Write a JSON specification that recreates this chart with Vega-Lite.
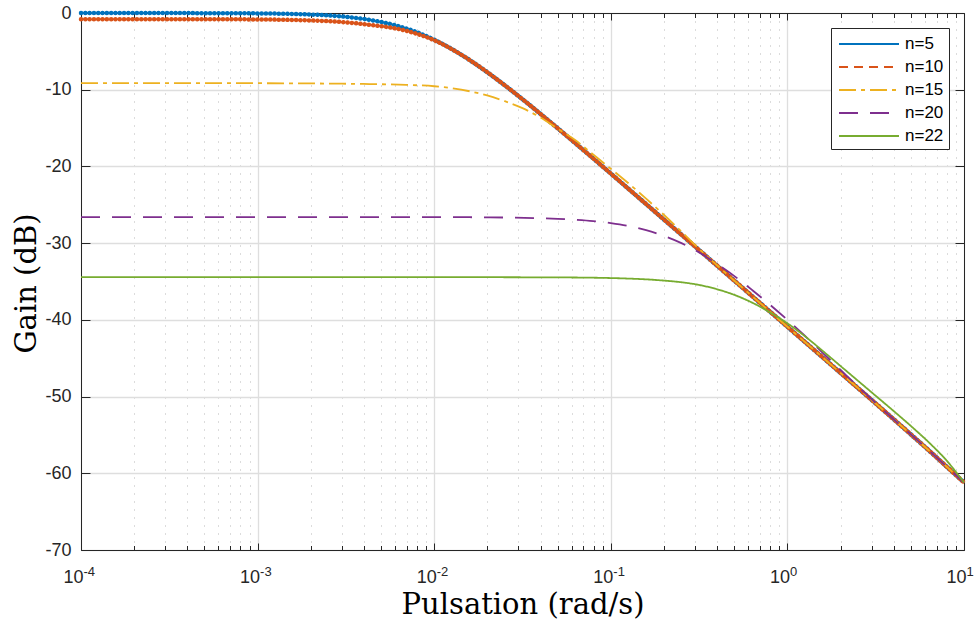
{
 "$schema": "https://vega.github.io/schema/vega-lite/v6.json",
 "width": 883,
 "height": 537,
 "autosize": {"type": "none"},
 "padding": {"left": 81, "top": 13, "right": 14, "bottom": 74},
 "background": "white",
 "config": {"view": {"stroke": null}},
 "data": {"values": [
  {"n":"n=5","w":0.0001,"g":0},
  {"n":"n=5","w":0.00031623,"g":-0.01},
  {"n":"n=5","w":0.001,"g":-0.05},
  {"n":"n=5","w":0.0015849,"g":-0.13},
  {"n":"n=5","w":0.0025119,"g":-0.32},
  {"n":"n=5","w":0.0031623,"g":-0.5},
  {"n":"n=5","w":0.0039811,"g":-0.77},
  {"n":"n=5","w":0.0050119,"g":-1.17},
  {"n":"n=5","w":0.0063096,"g":-1.73},
  {"n":"n=5","w":0.0079433,"g":-2.49},
  {"n":"n=5","w":0.01,"g":-3.48},
  {"n":"n=5","w":0.012589,"g":-4.7},
  {"n":"n=5","w":0.015849,"g":-6.12},
  {"n":"n=5","w":0.019953,"g":-7.71},
  {"n":"n=5","w":0.025119,"g":-9.43},
  {"n":"n=5","w":0.031623,"g":-11.24},
  {"n":"n=5","w":0.039811,"g":-13.12},
  {"n":"n=5","w":0.050119,"g":-15.04},
  {"n":"n=5","w":0.063096,"g":-16.99},
  {"n":"n=5","w":0.079433,"g":-18.95},
  {"n":"n=5","w":0.1,"g":-20.93},
  {"n":"n=5","w":0.12589,"g":-22.92},
  {"n":"n=5","w":0.15849,"g":-24.91},
  {"n":"n=5","w":0.19953,"g":-26.91},
  {"n":"n=5","w":0.25119,"g":-28.9},
  {"n":"n=5","w":0.31623,"g":-30.9},
  {"n":"n=5","w":0.39811,"g":-32.9},
  {"n":"n=5","w":0.50119,"g":-34.9},
  {"n":"n=5","w":0.63096,"g":-36.9},
  {"n":"n=5","w":0.79433,"g":-38.9},
  {"n":"n=5","w":1,"g":-40.9},
  {"n":"n=5","w":1.2589,"g":-42.9},
  {"n":"n=5","w":1.5849,"g":-44.9},
  {"n":"n=5","w":1.9953,"g":-46.9},
  {"n":"n=5","w":2.5119,"g":-48.9},
  {"n":"n=5","w":3.1623,"g":-50.9},
  {"n":"n=5","w":3.9811,"g":-52.92},
  {"n":"n=5","w":5.0119,"g":-54.95},
  {"n":"n=5","w":6.3096,"g":-57},
  {"n":"n=5","w":7.9433,"g":-59.1},
  {"n":"n=5","w":10,"g":-61.2},

  {"n":"n=10","w":0.0001,"g":-0.8},
  {"n":"n=10","w":0.00031623,"g":-0.8},
  {"n":"n=10","w":0.001,"g":-0.84},
  {"n":"n=10","w":0.0015849,"g":-0.91},
  {"n":"n=10","w":0.0025119,"g":-1.07},
  {"n":"n=10","w":0.0031623,"g":-1.22},
  {"n":"n=10","w":0.0039811,"g":-1.45},
  {"n":"n=10","w":0.0050119,"g":-1.72},
  {"n":"n=10","w":0.0063096,"g":-2.1},
  {"n":"n=10","w":0.0079433,"g":-2.7},
  {"n":"n=10","w":0.01,"g":-3.55},
  {"n":"n=10","w":0.012589,"g":-4.72},
  {"n":"n=10","w":0.015849,"g":-6.12},
  {"n":"n=10","w":0.019953,"g":-7.71},
  {"n":"n=10","w":0.025119,"g":-9.43},
  {"n":"n=10","w":0.031623,"g":-11.24},
  {"n":"n=10","w":0.039811,"g":-13.12},
  {"n":"n=10","w":0.050119,"g":-15.04},
  {"n":"n=10","w":0.063096,"g":-16.99},
  {"n":"n=10","w":0.079433,"g":-18.95},
  {"n":"n=10","w":0.1,"g":-20.93},
  {"n":"n=10","w":0.12589,"g":-22.92},
  {"n":"n=10","w":0.15849,"g":-24.91},
  {"n":"n=10","w":0.19953,"g":-26.91},
  {"n":"n=10","w":0.25119,"g":-28.9},
  {"n":"n=10","w":0.31623,"g":-30.9},
  {"n":"n=10","w":0.39811,"g":-32.9},
  {"n":"n=10","w":0.50119,"g":-34.9},
  {"n":"n=10","w":0.63096,"g":-36.9},
  {"n":"n=10","w":0.79433,"g":-38.9},
  {"n":"n=10","w":1,"g":-40.9},
  {"n":"n=10","w":1.2589,"g":-42.9},
  {"n":"n=10","w":1.5849,"g":-44.9},
  {"n":"n=10","w":1.9953,"g":-46.9},
  {"n":"n=10","w":2.5119,"g":-48.9},
  {"n":"n=10","w":3.1623,"g":-50.9},
  {"n":"n=10","w":3.9811,"g":-52.92},
  {"n":"n=10","w":5.0119,"g":-54.95},
  {"n":"n=10","w":6.3096,"g":-57},
  {"n":"n=10","w":7.9433,"g":-59.1},
  {"n":"n=10","w":10,"g":-61.2},

  {"n":"n=15","w":0.0001,"g":-9.13},
  {"n":"n=15","w":0.00031623,"g":-9.13},
  {"n":"n=15","w":0.001,"g":-9.15},
  {"n":"n=15","w":0.0025119,"g":-9.2},
  {"n":"n=15","w":0.0039811,"g":-9.25},
  {"n":"n=15","w":0.0063096,"g":-9.34},
  {"n":"n=15","w":0.01,"g":-9.55},
  {"n":"n=15","w":0.012589,"g":-9.8},
  {"n":"n=15","w":0.015849,"g":-10.2},
  {"n":"n=15","w":0.019953,"g":-10.75},
  {"n":"n=15","w":0.025119,"g":-11.5},
  {"n":"n=15","w":0.031623,"g":-12.4},
  {"n":"n=15","w":0.039811,"g":-13.6},
  {"n":"n=15","w":0.050119,"g":-15.1},
  {"n":"n=15","w":0.063096,"g":-16.6},
  {"n":"n=15","w":0.079433,"g":-18.45},
  {"n":"n=15","w":0.1,"g":-20.3},
  {"n":"n=15","w":0.12589,"g":-22.2},
  {"n":"n=15","w":0.15849,"g":-24.2},
  {"n":"n=15","w":0.19953,"g":-26.3},
  {"n":"n=15","w":0.25119,"g":-28.5},
  {"n":"n=15","w":0.31623,"g":-30.75},
  {"n":"n=15","w":0.39811,"g":-32.85},
  {"n":"n=15","w":0.50119,"g":-34.9},
  {"n":"n=15","w":0.63096,"g":-36.9},
  {"n":"n=15","w":1,"g":-40.9},
  {"n":"n=15","w":1.5849,"g":-44.9},
  {"n":"n=15","w":2.5119,"g":-48.9},
  {"n":"n=15","w":3.9811,"g":-52.92},
  {"n":"n=15","w":6.3096,"g":-57},
  {"n":"n=15","w":7.9433,"g":-59.1},
  {"n":"n=15","w":10,"g":-61.2},

  {"n":"n=20","w":0.0001,"g":-26.6},
  {"n":"n=20","w":0.001,"g":-26.6},
  {"n":"n=20","w":0.01,"g":-26.6},
  {"n":"n=20","w":0.015849,"g":-26.62},
  {"n":"n=20","w":0.025119,"g":-26.66},
  {"n":"n=20","w":0.039811,"g":-26.75},
  {"n":"n=20","w":0.050119,"g":-26.83},
  {"n":"n=20","w":0.063096,"g":-26.95},
  {"n":"n=20","w":0.079433,"g":-27.12},
  {"n":"n=20","w":0.1,"g":-27.38},
  {"n":"n=20","w":0.12589,"g":-27.75},
  {"n":"n=20","w":0.15849,"g":-28.3},
  {"n":"n=20","w":0.19953,"g":-29.05},
  {"n":"n=20","w":0.25119,"g":-30.0},
  {"n":"n=20","w":0.31623,"g":-31.2},
  {"n":"n=20","w":0.39811,"g":-32.7},
  {"n":"n=20","w":0.50119,"g":-34.3},
  {"n":"n=20","w":0.63096,"g":-36.1},
  {"n":"n=20","w":0.79433,"g":-38.0},
  {"n":"n=20","w":1,"g":-40.0},
  {"n":"n=20","w":1.2589,"g":-42.1},
  {"n":"n=20","w":1.5849,"g":-44.3},
  {"n":"n=20","w":1.9953,"g":-46.5},
  {"n":"n=20","w":2.5119,"g":-48.7},
  {"n":"n=20","w":3.1623,"g":-50.85},
  {"n":"n=20","w":3.9811,"g":-52.92},
  {"n":"n=20","w":5.0119,"g":-54.95},
  {"n":"n=20","w":6.3096,"g":-57},
  {"n":"n=20","w":7.9433,"g":-59.1},
  {"n":"n=20","w":10,"g":-61.2},

  {"n":"n=22","w":0.0001,"g":-34.42},
  {"n":"n=22","w":0.001,"g":-34.42},
  {"n":"n=22","w":0.01,"g":-34.43},
  {"n":"n=22","w":0.031623,"g":-34.45},
  {"n":"n=22","w":0.063096,"g":-34.48},
  {"n":"n=22","w":0.1,"g":-34.55},
  {"n":"n=22","w":0.12589,"g":-34.62},
  {"n":"n=22","w":0.15849,"g":-34.72},
  {"n":"n=22","w":0.19953,"g":-34.88},
  {"n":"n=22","w":0.25119,"g":-35.1},
  {"n":"n=22","w":0.31623,"g":-35.45},
  {"n":"n=22","w":0.39811,"g":-36.0},
  {"n":"n=22","w":0.50119,"g":-36.75},
  {"n":"n=22","w":0.63096,"g":-37.75},
  {"n":"n=22","w":0.79433,"g":-39.0},
  {"n":"n=22","w":1,"g":-40.45},
  {"n":"n=22","w":1.2589,"g":-42.15},
  {"n":"n=22","w":1.5849,"g":-44.05},
  {"n":"n=22","w":1.9953,"g":-46.0},
  {"n":"n=22","w":2.5119,"g":-47.95},
  {"n":"n=22","w":3.1623,"g":-49.9},
  {"n":"n=22","w":3.9811,"g":-51.85},
  {"n":"n=22","w":5.0119,"g":-53.85},
  {"n":"n=22","w":6.3096,"g":-55.95},
  {"n":"n=22","w":7.9433,"g":-58.3},
  {"n":"n=22","w":10,"g":-61.2}
 ]},
 "layer": [
  {
   "transform": [{"filter": {"field": "n", "oneOf": ["n=5", "n=10"]}}],
   "mark": {"type": "line", "strokeWidth": 1.5, "interpolate": "monotone"},
   "encoding": {
    "x": {"field": "w", "type": "quantitative",
     "scale": {"type": "log", "domain": [0.0001, 10], "nice": false},
     "axis": {
      "orient": "bottom",
      "values": [0.0001,0.0002,0.0003,0.0004,0.0005,0.0006,0.0007,0.0008,0.0009,0.001,0.002,0.003,0.004,0.005,0.006,0.007,0.008,0.009,0.01,0.02,0.03,0.04,0.05,0.06,0.07,0.08,0.09,0.1,0.2,0.3,0.4,0.5,0.6,0.7,0.8,0.9,1,2,3,4,5,6,7,8,9,10],
      "labelExpr": "indexof([0.0001,0.001,0.01,0.1,1,10], datum.value) >= 0 ? '10' : ''",
      "labelFont": "Liberation Sans", "labelFontSize": 18, "labelColor": "#262626",
      "labelPadding": 25, "labelOffset": -8, "labelOverlap": false, "labelFlush": false, "labelBound": false,
      "tickColor": "#262626", "tickWidth": 1,
      "tickSize": {"condition": {"test": "indexof([0.0001,0.001,0.01,0.1,1,10], datum.value) >= 0", "value": -7}, "value": -4.5},
      "grid": true,
      "gridColor": {"condition": {"test": "indexof([0.0001,0.001,0.01,0.1,1,10], datum.value) >= 0", "value": "#dedede"}, "value": "#b8b8b8"},
      "gridDash": {"condition": {"test": "indexof([0.0001,0.001,0.01,0.1,1,10], datum.value) >= 0", "value": []}, "value": [1, 7]},
      "gridWidth": {"condition": {"test": "indexof([0.0001,0.001,0.01,0.1,1,10], datum.value) >= 0", "value": 1.3}, "value": 1},
      "domainColor": "#262626", "domainWidth": 1,
      "title": "Pulsation (rad/s)", "titleFont": "DejaVu Serif", "titleFontSize": 29, "titleFontWeight": "normal", "titleColor": "#000000",
      "titleX": 441.5, "titleY": 63, "titleAlign": "center", "titleBaseline": "alphabetic"
     }},
    "y": {"field": "g", "type": "quantitative",
     "scale": {"domain": [-70, 0], "nice": false, "zero": false},
     "axis": {
      "orient": "left",
      "values": [-70,-60,-50,-40,-30,-20,-10,0],
      "labelExpr": "'' + datum.value",
      "labelFont": "Liberation Sans", "labelFontSize": 18, "labelColor": "#262626",
      "labelPadding": 19, "labelFlush": false, "labelOverlap": false, "labelBound": false,
      "tickSize": -9, "tickColor": "#262626", "tickWidth": 1,
      "grid": true, "gridColor": "#dedede", "gridWidth": 1.3,
      "domainColor": "#262626", "domainWidth": 1,
      "title": "Gain (dB)", "titleFont": "DejaVu Serif", "titleFontSize": 29, "titleFontWeight": "normal", "titleColor": "#000000",
      "titleAngle": -90, "titleX": -46, "titleY": 270, "titleAlign": "center", "titleBaseline": "alphabetic"
     }},
    "color": {"field": "n", "type": "nominal",
     "scale": {"domain": ["n=5","n=10","n=15","n=20","n=22"], "range": ["#0072BD","#D95319","#EDB120","#7E2F8E","#77AC30"]},
     "legend": {"title": null, "orient": "top-right", "offset": 15, "fillColor": "white", "strokeColor": "#262626", "padding": 5,
      "labelFont": "Liberation Sans", "labelFontSize": 17, "labelColor": "#000000", "labelOffset": 25,
      "symbolType": "M-3,0H3", "symbolSize": 400, "symbolOffset": 22, "symbolStrokeWidth": 2, "rowPadding": 4}},
    "strokeDash": {"field": "n", "type": "nominal",
     "scale": {"domain": ["n=5","n=10","n=15","n=20","n=22"], "range": [[1,0],[9,6],[17,5,4,5],[19,12],[1,0]]},
     "legend": {"title": null, "orient": "top-right", "offset": 15, "fillColor": "white", "strokeColor": "#262626", "padding": 5,
      "labelFont": "Liberation Sans", "labelFontSize": 17, "labelColor": "#000000", "labelOffset": 25,
      "symbolType": "M-3,0H3", "symbolSize": 400, "symbolOffset": 22, "symbolStrokeWidth": 2, "rowPadding": 4}}
   }
  },
  {
   "transform": [{"filter": {"field": "n", "oneOf": ["n=5", "n=10"]}}],
   "mark": {"type": "line", "strokeWidth": 4.5, "strokeDash": [0.1, 4.2], "strokeCap": "round", "interpolate": "monotone"},
   "encoding": {
    "x": {"field": "w", "type": "quantitative", "scale": {"type": "log", "domain": [0.0001, 10], "nice": false},
     "axis": {
      "orient": "bottom",
      "values": [0.0001,0.001,0.01,0.1,1,10],
      "labelExpr": "datum.value == 0.0001 ? '-4' : datum.value == 0.001 ? '-3' : datum.value == 0.01 ? '-2' : datum.value == 0.1 ? '-1' : datum.value == 1 ? '0' : '1'",
      "labelFont": "Liberation Sans", "labelFontSize": 13, "labelColor": "#262626",
      "labelAlign": "left", "labelBaseline": "top", "labelOffset": 2, "labelPadding": 15,
      "labelOverlap": false, "labelFlush": false, "labelBound": false,
      "ticks": false, "domain": false, "grid": false, "title": null
     }},
    "y": {"field": "g", "type": "quantitative", "scale": {"domain": [-70, 0], "nice": false, "zero": false}, "axis": null},
    "color": {"field": "n", "type": "nominal",
     "scale": {"domain": ["n=5","n=10","n=15","n=20","n=22"], "range": ["#0072BD","#D95319","#EDB120","#7E2F8E","#77AC30"]},
     "legend": null}
   }
  },
  {
   "transform": [{"filter": {"field": "n", "oneOf": ["n=15", "n=20", "n=22"]}}],
   "mark": {"type": "line", "strokeWidth": 1.8, "interpolate": "monotone"},
   "encoding": {
    "x": {"field": "w", "type": "quantitative",
     "scale": {"type": "log", "domain": [0.0001, 10], "nice": false},
     "axis": {
      "orient": "top",
      "values": [0.0001,0.0002,0.0003,0.0004,0.0005,0.0006,0.0007,0.0008,0.0009,0.001,0.002,0.003,0.004,0.005,0.006,0.007,0.008,0.009,0.01,0.02,0.03,0.04,0.05,0.06,0.07,0.08,0.09,0.1,0.2,0.3,0.4,0.5,0.6,0.7,0.8,0.9,1,2,3,4,5,6,7,8,9,10],
      "labels": false, "grid": false, "title": null,
      "tickColor": "#262626", "tickWidth": 1,
      "tickSize": {"condition": {"test": "indexof([0.0001,0.001,0.01,0.1,1,10], datum.value) >= 0", "value": -7}, "value": -4.5},
      "domainColor": "#262626", "domainWidth": 1
     }},
    "y": {"field": "g", "type": "quantitative",
     "scale": {"domain": [-70, 0], "nice": false, "zero": false},
     "axis": {
      "orient": "right",
      "values": [-70,-60,-50,-40,-30,-20,-10,0],
      "labels": false, "grid": false, "title": null,
      "tickSize": -9, "tickColor": "#262626", "tickWidth": 1,
      "domainColor": "#262626", "domainWidth": 1
     }},
    "color": {"field": "n", "type": "nominal",
     "scale": {"domain": ["n=5","n=10","n=15","n=20","n=22"], "range": ["#0072BD","#D95319","#EDB120","#7E2F8E","#77AC30"]},
     "legend": {"title": null, "orient": "top-right", "offset": 15, "fillColor": "white", "strokeColor": "#262626", "padding": 5,
      "labelFont": "Liberation Sans", "labelFontSize": 17, "labelColor": "#000000", "labelOffset": 25,
      "symbolType": "M-3,0H3", "symbolSize": 400, "symbolOffset": 22, "symbolStrokeWidth": 2, "rowPadding": 4}},
    "strokeDash": {"field": "n", "type": "nominal",
     "scale": {"domain": ["n=5","n=10","n=15","n=20","n=22"], "range": [[1,0],[9,6],[17,5,4,5],[19,12],[1,0]]},
     "legend": {"title": null, "orient": "top-right", "offset": 15, "fillColor": "white", "strokeColor": "#262626", "padding": 5,
      "labelFont": "Liberation Sans", "labelFontSize": 17, "labelColor": "#000000", "labelOffset": 25,
      "symbolType": "M-3,0H3", "symbolSize": 400, "symbolOffset": 22, "symbolStrokeWidth": 2, "rowPadding": 4}}
   }
  }
 ],
 "resolve": {"axis": {"x": "independent", "y": "independent"}}
}
